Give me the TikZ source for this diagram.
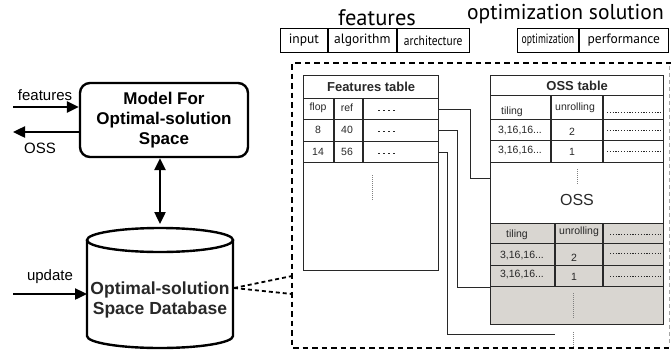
\documentclass[tikz,border=0pt]{standalone}
\usepackage{fontspec}
\setmainfont{Liberation Sans}
\newfontfamily\headfont{PT Sans}
\usetikzlibrary{arrows.meta,positioning}

\definecolor{tabgray}{RGB}{217,214,209}
\definecolor{inkgray}{RGB}{40,40,40}

\begin{document}
\begin{tikzpicture}
		[x=1pt,y=-1pt,line join=miter,
		%Styles
		flow/.style={line width=2.4pt,-{Triangle[length=12pt,width=11pt]}},
		both flow/.style={line width=2.4pt,{Triangle[length=12pt,width=11pt]}-{Triangle[length=12pt,width=11pt]}},
		model box/.style={draw,line width=2.4pt,rounded corners=10pt,align=center,inner sep=0pt,
			font=\bfseries\fontsize{17}{20}\selectfont},
		db text/.style={align=center,inner sep=0pt,font=\bfseries\fontsize{17.5}{20}\selectfont,text=inkgray},
		side label/.style={inner sep=0pt,font=\fontsize{15}{17}\selectfont},
		big dash/.style={line width=2.2pt,dash pattern=on 5.5pt off 4pt},
		edge dash/.style={line width=0.8pt,gray!70,dash pattern=on 4pt off 3pt},
		link dash/.style={line width=1.8pt,dash pattern=on 4pt off 3pt},
		head text/.style={inner sep=0pt,font=\headfont\fontsize{22.5}{24}\selectfont},
		head box/.style={draw,line width=0.9pt,minimum height=24pt,inner sep=0pt,anchor=north west,
			font=\headfont\fontsize{13.5}{15}\selectfont},
		tab title/.style={draw=inkgray,line width=1.3pt,inner sep=0pt,anchor=north west,
			font=\bfseries\fontsize{13}{15}\selectfont,text=inkgray},
		tab row/.style={draw=inkgray,line width=1.3pt,inner sep=0pt,anchor=north west},
		tab line/.style={draw=inkgray,line width=1.3pt},
		cell/.style={inner sep=0pt,font=\fontsize{10.5}{12}\selectfont,text=inkgray},
		conn/.style={line width=1pt,inkgray},
		dots/.style={line width=0.8pt,inkgray,dash pattern=on 1.2pt off 1.6pt},
		wide dots/.style={line width=0.8pt,inkgray,dash pattern=on 2pt off 3pt},
		vdots/.style={line width=0.9pt,gray,dash pattern=on 1pt off 1pt}
		]
		
		\useasboundingbox (0,0) rectangle (671,351);
		
		%Model and database
		\node[model box,minimum width=168pt,minimum height=74pt] (model) at (164,120) {Model For\\Optimal-solution\\Space};
		
		\coordinate (featin) at (13,107);
		\coordinate (ossout) at (13,132);
		\draw[flow] (featin) -- (featin -| model.west);
		\draw[flow] (ossout -| model.west) -- (ossout);
		\node[side label] (featlbl) at (45,95) {features};
		\node[side label] (osslbl) at (40,148) {OSS};
		
		\draw[line width=2.4pt] (160,240) ellipse[x radius=73,y radius=12];
		\draw[line width=2.4pt] (87,240) -- (87,336) arc[start angle=180,end angle=0,x radius=73,y radius=12] -- (233,240);
		\node[db text] (db) at (160,300) {Optimal-solution\\Space Database};
		
		\coordinate (dbtop) at (160,224);
		\draw[both flow] (model.south -| dbtop) -- (dbtop);
		
		\coordinate (updin) at (13,294);
		\coordinate (dbwest) at (87,294);
		\draw[flow] (updin) -- (dbwest);
		\node[side label] (updlbl) at (50,277) {update};
		
		%Zoomed part
		\coordinate (dbeast) at (234,288);
		\coordinate (boxa) at (292,276);
		\coordinate (boxb) at (292,294);
		\draw[link dash] (dbeast) -- (boxa);
		\draw[link dash] (dbeast) -- (boxb);
		
		\draw[big dash] (671,63) -- (292,63) -- (292,348) -- (671,348);
		\draw[edge dash] (669,66) -- (669,346);
		
		%Header
		\node[head text,anchor=base] (feathd) at (377,25) {features};
		\node[head text,anchor=base west,font=\headfont\fontsize{21.5}{23}\selectfont] (opthd) at (467,19) {optimization solution};
		\node[head box,minimum width=47pt] (hinput) at (280,28) {input};
		\node[head box,minimum width=68pt,right=0pt of hinput] (halgo) {algorithm};
		\node[head box,minimum width=72pt,right=0pt of halgo] (harch) {\scalebox{0.85}[1]{architecture}};
		\node[head box,minimum width=61pt] (hopt) at (517,28) {\scalebox{0.72}[1]{optimization}};
		\node[head box,minimum width=89pt,right=0pt of hopt] (hperf) {performance};
		
		%Features table
		\node[tab title,minimum width=135pt,minimum height=23pt] (ftitle) at (303,75) {Features table};
		\node[tab row,minimum width=135pt,minimum height=21pt] (frow1) at (303,98) {};
		\node[tab row,minimum width=135pt,minimum height=22pt] (frow2) at (303,119) {};
		\node[tab row,minimum width=135pt,minimum height=21pt] (frow3) at (303,141) {};
		\node[tab row,minimum width=135pt,minimum height=108pt] (frow4) at (303,162) {};
		\draw[tab line] (334,98) -- (334,162);
		\draw[tab line] (363,98) -- (363,162);
		
		\node[cell] (fc11) at (318,108) {flop};
		\node[cell] (fc12) at (347,108) {ref};
		\node[cell] (fc21) at (318,130) {8};
		\node[cell] (fc22) at (347,130) {40};
		\node[cell] (fc31) at (318,152) {14};
		\node[cell] (fc32) at (347,152) {56};
		\foreach \y in {110,131,153}
			\draw[wide dots] (378,\y) -- (397,\y);
		\draw[vdots] (372,175) -- (372,201);
		
		%OSS table
		\node[tab title,minimum width=173pt,minimum height=20pt] (otitle) at (490,75) {OSS table};
		\node[tab row,minimum width=173pt,minimum height=24pt] (orow1) at (490,95) {};
		\node[tab row,minimum width=173pt,minimum height=21pt] (orow2) at (490,119) {};
		\node[tab row,minimum width=173pt,minimum height=22pt] (orow3) at (490,140) {};
		\node[tab row,minimum width=173pt,minimum height=61pt] (ossmid) at (490,162) {};
		\draw[tab line] (551,95) -- (551,162);
		\draw[tab line] (603,95) -- (603,162);
		
		\node[cell] (oc11) at (512,112) {tiling};
		\node[cell] (oc12) at (575,108) {unrolling};
		\node[cell] (oc21) at (520,131) {3,16,16...};
		\node[cell] (oc22) at (572,132) {2};
		\node[cell] (oc31) at (520,151) {3,16,16...};
		\node[cell] (oc32) at (572,152) {1};
		\foreach \y in {112,130,151}
			\draw[dots] (607,\y) -- (661,\y);
		\draw[vdots] (577,169) -- (577,184);
		\node[cell,font=\fontsize{16}{18}\selectfont] (osstxt) at (577,200) {OSS};
		
		%Gray part
		\node[tab row,fill=tabgray,minimum width=173pt,minimum height=20pt] (grow1) at (490,223) {};
		\node[tab row,fill=tabgray,minimum width=173pt,minimum height=22pt] (grow2) at (490,243) {};
		\node[tab row,fill=tabgray,minimum width=173pt,minimum height=21pt] (grow3) at (490,265) {};
		\node[tab row,fill=tabgray,minimum width=173pt,minimum height=38pt] (grow4) at (490,286) {};
		\draw[tab line] (555,223) -- (555,286);
		\draw[tab line] (603,223) -- (603,286);
		
		\node[cell] (gc11) at (517,235) {tiling};
		\node[cell] (gc12) at (579,232) {unrolling};
		\node[cell] (gc21) at (522,256) {3,16,16...};
		\node[cell] (gc22) at (574,258) {2};
		\node[cell] (gc31) at (522,275) {3,16,16...};
		\node[cell] (gc32) at (574,277) {1};
		\foreach \y in {234,253,276}
			\draw[dots] (610,\y) -- (661,\y);
		\draw[vdots] (573,293) -- (573,319);
		\draw[vdots] (573,332) -- (573,347);
		
		%Connectors
		\coordinate (oin1) at (490,178);
		\coordinate (cend) at (555,334);
		\draw[conn] (frow1.east) -- ++(31,0) |- (oin1);
		\draw[conn] (frow2.east) -- ++(18,0) |- (grow3.south west);
		\draw[conn] (frow3.east) -- ++(8,0) |- (cend);
	\end{tikzpicture}
\end{document}
